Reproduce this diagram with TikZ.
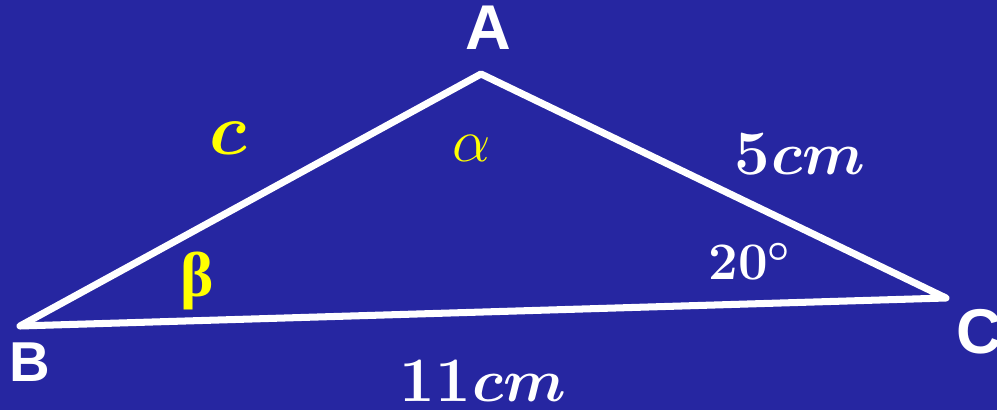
\documentclass[tikz,border=0pt]{standalone}
\usepackage{fontspec}
\usepackage{amsmath}
\newfontfamily\labelfont{Liberation Sans}
\newfontfamily\greekfont{Liberation Serif}
\definecolor{bgblue}{RGB}{38,38,161}
\definecolor{ylw}{RGB}{255,255,0}
\begin{document}
\begin{tikzpicture}[
  vlabel/.style={text=white,inner sep=0pt,font=\labelfont\bfseries\fontsize{18}{20}\selectfont},
  side/.style={text=white,inner sep=0pt,font=\fontsize{18}{20}\selectfont\bfseries\boldmath},
  ang/.style={inner sep=0pt},
  tri/.style={draw=white,line width=2pt,line join=round}
]
\useasboundingbox (0,0) rectangle (9.97,4.10);
\fill[bgblue] (0,0) rectangle (9.97,4.10);
\coordinate (A) at (4.81,3.36);
\coordinate (B) at (0.20,0.84);
\coordinate (C) at (9.46,1.12);
\draw[tri] (A) -- (B) -- (C) -- cycle;
\node[vlabel] (lA) at (4.88,3.82) {A};
\node[vlabel,font=\labelfont\bfseries\fontsize{16}{18}\selectfont] (lB) at (0.30,0.48) {B};
\node[vlabel] (lC) at (9.79,0.78) {C};
\node[side,text=ylw,font=\fontsize{20}{22}\selectfont\boldmath] (lc) at (2.28,2.72) {$c$};
\node[side] (l5) at (8.00,2.56) {5\kern0.5pt$cm$};
\node[side] (l11) at (4.83,0.29) {11\kern0.5pt$cm$};
\node[side,font=\fontsize{15}{17}\selectfont\bfseries\boldmath] (l20) at (7.50,1.48) {20$^{\circ}$};
\node[ang,text=ylw,font=\fontsize{18}{20}\selectfont] (alpha) at (4.72,2.62) {$\alpha$};
\node[ang,text=ylw,font=\greekfont\bfseries\fontsize{18}{20}\selectfont] (beta) at (1.97,1.29) {β};
\end{tikzpicture}
\end{document}
